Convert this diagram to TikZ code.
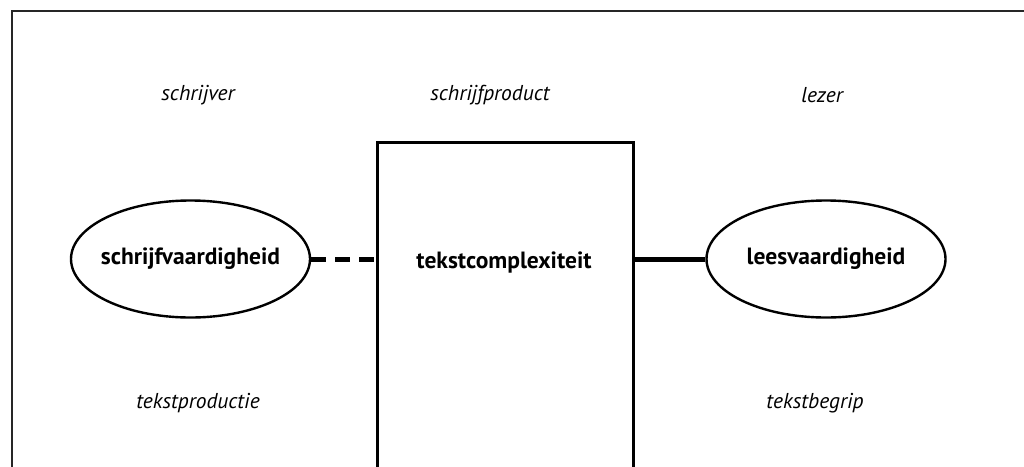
\documentclass[tikz,border=0pt]{standalone}
\usepackage{fontspec}
\setmainfont{PT Sans}
\usetikzlibrary{shapes.geometric}
\begin{document}
\begin{tikzpicture}[x=1pt,y=-1pt,
  skill/.style={draw, ellipse, line width=2.4pt, minimum width=239pt, minimum height=117pt, inner xsep=-14pt, inner ysep=0pt, font=\fontsize{23.5}{28}\selectfont\bfseries},
  role/.style={font=\fontsize{21.5}{26}\selectfont\itshape, inner sep=0pt},
  frameline/.style={line width=2pt, color=black!85},
  boxline/.style={line width=3pt}
]
\useasboundingbox (0,0) rectangle (1024,466);
\clip (0,0) rectangle (1024,466);
\draw[frameline] (12,470) -- (12,11) -- (1030,11);
\node[draw, boxline, minimum width=256.5pt, minimum height=360pt, inner sep=0pt, anchor=north west] (box) at (375.5,141) {};
\node[font=\fontsize{23.5}{28}\selectfont\bfseries] (tc) at (504,262) {tekstcomplexiteit};
\node[skill] (sv) at (190.5,259) {schrijfvaardigheid};
\node[skill] (lv) at (826,259) {leesvaardigheid};
\draw[line width=5pt, dash pattern=on 15pt off 9pt] (sv.east) -- (sv.east -| box.west);
\draw[line width=5pt] (lv.west) -- (lv.west -| box.east);
\node[role] (r1) at (198,95) {schrijver};
\node[role] (r2) at (490,95) {schrijfproduct};
\node[role] (r3) at (822,95) {lezer};
\node[role] (r4) at (198,403) {tekstproductie};
\node[role] (r5) at (815,403) {tekstbegrip};
\end{tikzpicture}
\end{document}
